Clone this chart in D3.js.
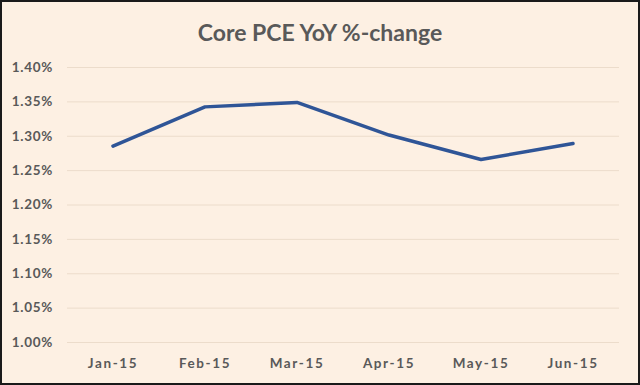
<!DOCTYPE html>
<html>
<head>
<meta charset="utf-8">
<script src="https://cdn.jsdelivr.net/npm/d3@7"></script>
<style>
  html, body { margin: 0; padding: 0; background: #fdf0e3; }
  svg { display: block; }
</style>
</head>
<body>
<svg id="chart" width="640" height="385"></svg>
<script>
// chart data
var months = ["Jan-15", "Feb-15", "Mar-15", "Apr-15", "May-15", "Jun-15"];
var corePce = [1.285, 1.342, 1.3485, 1.301, 1.2655, 1.2888];
var yTicks = [1.00, 1.05, 1.10, 1.15, 1.20, 1.25, 1.30, 1.35, 1.40];
var title = "Core PCE YoY %-change";

var W = 640, H = 385;
var m = { left: 67, right: 21, top: 67, bottom: 43 };

var svg = d3.select("#chart");

svg.append("rect")
  .attr("x", 1).attr("y", 1)
  .attr("width", W - 2).attr("height", H - 2)
  .style("fill", "#fdf0e3")
  .style("stroke", "#1a1a1a")
  .style("stroke-width", 2);

var x = d3.scaleBand()
  .domain(months)
  .range([m.left, W - m.right]);

var y = d3.scaleLinear()
  .domain([1.00, 1.40])
  .range([H - m.bottom, m.top]);

// gridlines
var yAxis = d3.axisLeft(y)
  .tickValues(yTicks)
  .tickSize(-(W - m.left - m.right))
  .tickPadding(14)
  .tickFormat(function(d) { return d.toFixed(2) + "%"; });

var gy = svg.append("g")
  .attr("transform", "translate(" + m.left + ",0)")
  .call(yAxis);
gy.select(".domain").remove();
gy.selectAll("line").style("stroke", "#ecdccb").style("stroke-width", 1);
gy.selectAll("text")
  .style("font-family", "Lato, 'Open Sans', sans-serif")
  .style("font-weight", "bold")
  .style("font-size", "13.5px")
  .style("letter-spacing", "0.7px")
  .style("fill", "#595959");

var xAxis = d3.axisBottom(x).tickSize(0).tickPadding(16);
var gx = svg.append("g")
  .attr("transform", "translate(0," + (H - m.bottom) + ")")
  .call(xAxis);
gx.select(".domain").remove();
gx.selectAll("text")
  .style("font-family", "Lato, 'Open Sans', sans-serif")
  .style("font-weight", "bold")
  .style("font-size", "13.5px")
  .style("letter-spacing", "1.6px")
  .style("fill", "#595959");

var line = d3.line()
  .x(function(d, i) { return x(months[i]) + x.bandwidth() / 2; })
  .y(function(d) { return y(d); });

svg.append("path")
  .datum(corePce)
  .attr("d", line)
  .style("fill", "none")
  .style("stroke", "#2f5597")
  .style("stroke-width", 3.5)
  .style("stroke-linejoin", "round")
  .style("stroke-linecap", "round");

svg.append("text")
  .attr("x", W / 2)
  .attr("y", 41)
  .attr("text-anchor", "middle")
  .text(title)
  .style("font-family", "Lato, 'Open Sans', sans-serif")
  .style("font-weight", "bold")
  .style("font-size", "23px")
  .style("fill", "#595959");
</script>
</body>
</html>
